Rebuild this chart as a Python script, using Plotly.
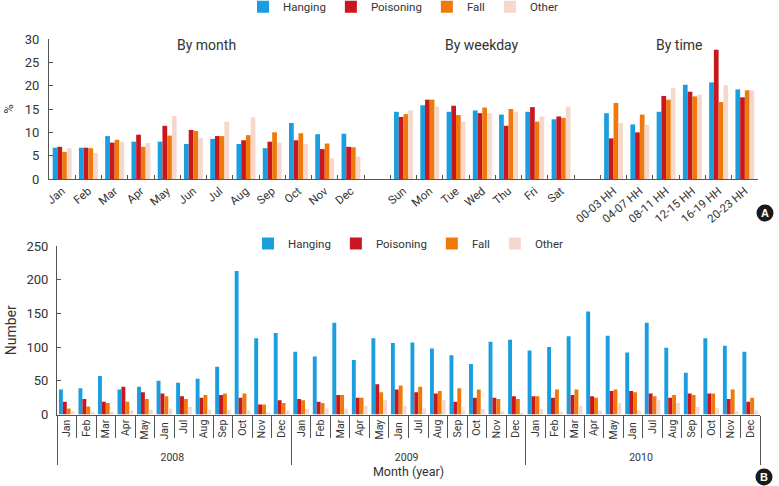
import plotly.graph_objects as go

# ---------------- data ----------------
series = ["Hanging", "Poisoning", "Fall", "Other"]
colors = ["#1a9ee0", "#c8171e", "#ef7a0b", "#f5d8cb"]

month_labels = ["Jan", "Feb", "Mar", "Apr", "May", "Jun", "Jul", "Aug", "Sep", "Oct", "Nov", "Dec"]
weekday_labels = ["Sun", "Mon", "Tue", "Wed", "Thu", "Fri", "Sat"]
time_labels = ["00-03 HH", "04-07 HH", "08-11 HH", "12-15 HH", "16-19 HH", "20-23 HH"]
gap_a, gap_b = " ", "  "

# Panel A: percent
pct_month = {
    "Hanging":   [6.7, 6.7, 9.2, 8.0, 8.0, 7.5, 8.6, 7.5, 6.6, 12.0, 9.6, 9.7],
    "Poisoning": [6.9, 6.7, 7.8, 9.5, 11.4, 10.5, 9.2, 8.3, 8.0, 8.3, 6.4, 6.9],
    "Fall":      [5.8, 6.6, 8.4, 6.9, 9.3, 10.3, 9.2, 9.4, 10.0, 9.8, 7.6, 6.8],
    "Other":     [6.6, 5.6, 8.0, 7.7, 13.5, 8.8, 12.3, 13.2, 7.8, 7.5, 4.4, 4.8],
}
pct_weekday = {
    "Hanging":   [14.4, 15.8, 14.4, 14.7, 13.8, 14.4, 12.8],
    "Poisoning": [13.3, 17.0, 15.7, 14.1, 11.4, 15.4, 13.4],
    "Fall":      [13.9, 17.0, 13.7, 15.3, 15.0, 12.3, 13.1],
    "Other":     [14.7, 15.5, 12.3, 14.1, 14.4, 13.4, 15.5],
}
pct_time = {
    "Hanging":   [14.1, 11.7, 14.4, 20.2, 20.7, 19.2],
    "Poisoning": [8.7, 10.0, 17.8, 18.7, 27.7, 17.5],
    "Fall":      [16.3, 13.8, 17.0, 17.7, 16.5, 19.0],
    "Other":     [12.0, 11.6, 19.5, 18.1, 20.1, 19.0],
}

# Panel B: number per month
years = ["2008", "2009", "2010"]
b_months = ["Jan", "Feb", "Mar", "Apr", "May", "Jan ", "Jul", "Aug", "Sep", "Oct", "Nov", "Dec"]
num = {
    "Hanging":   [37, 39, 57, 37, 41, 50, 47, 53, 71, 213, 113, 121,
                  93, 86, 136, 81, 113, 106, 107, 98, 88, 75, 108, 111,
                  95, 100, 116, 153, 117, 92, 136, 99, 62, 113, 102, 93],
    "Poisoning": [19, 23, 19, 41, 33, 31, 27, 25, 29, 25, 15, 21,
                  23, 19, 29, 25, 45, 37, 33, 31, 19, 25, 25, 27,
                  27, 25, 29, 27, 35, 35, 31, 25, 31, 31, 23, 19],
    "Fall":      [9, 12, 17, 19, 23, 27, 23, 29, 31, 31, 15, 17,
                  21, 17, 29, 25, 33, 43, 41, 35, 39, 37, 23, 23,
                  27, 37, 37, 25, 37, 33, 27, 29, 29, 31, 37, 25],
    "Other":     [5, 4, 4, 6, 7, 9, 11, 7, 7, 6, 3, 6,
                  8, 9, 9, 13, 21, 13, 9, 21, 6, 8, 5, 2,
                  8, 4, 13, 6, 17, 6, 21, 17, 11, 10, 5, 6],
}

# ---------------- figure ----------------
W, H = 779, 486
FONT = "Roboto, Liberation Sans, sans-serif"
TXT = "#333333"
AX = "#555555"

fig = go.Figure()

top_x = month_labels + weekday_labels + time_labels
top_cats = month_labels + [gap_a] + weekday_labels + [gap_b] + time_labels
for i, s in enumerate(series):
    fig.add_trace(go.Bar(
        x=top_x, y=pct_month[s] + pct_weekday[s] + pct_time[s],
        name=s, marker=dict(color=colors[i], line=dict(width=0)),
        width=0.18, offset=-0.36 + 0.18 * i,
        xaxis="x", yaxis="y", legend="legend",
    ))

year_level = [y for y in years for _ in b_months]
month_level = b_months * len(years)
for i, s in enumerate(series):
    fig.add_trace(go.Bar(
        x=[year_level, month_level], y=num[s],
        name=s, marker=dict(color=colors[i], line=dict(width=0)),
        width=0.2, offset=-0.4 + 0.2 * i,
        xaxis="x2", yaxis="y2", legend="legend2",
    ))

def px_x(p):
    return p / W

def px_y(p):
    return (H - p) / H

fig.update_layout(
    width=W, height=H, autosize=False,
    margin=dict(l=0, r=0, t=0, b=0, autoexpand=False),
    paper_bgcolor="white", plot_bgcolor="white",
    font=dict(family=FONT, size=12, color=TXT),
    barmode="group",
    xaxis=dict(
        domain=[px_x(49), px_x(758)], anchor="y",
        type="category", categoryorder="array", categoryarray=top_cats,
        tickson="boundaries", ticks="inside", ticklen=4, tickcolor=AX,
        showline=True, linecolor=AX, linewidth=1,
        tickangle=-40, tickfont=dict(size=11.5, color=TXT),
        showgrid=False, zeroline=False,
    ),
    yaxis=dict(
        domain=[px_y(179), px_y(39)], anchor="x",
        range=[0, 30], dtick=5, ticks="inside", ticklen=4, tickcolor=AX,
        showline=True, linecolor=AX, linewidth=1,
        showgrid=False, zeroline=False,
        tickfont=dict(size=13, color=TXT), ticklabelstandoff=6,
        title=dict(text="%", font=dict(size=13, color=TXT), standoff=8),
    ),
    xaxis2=dict(
        domain=[px_x(57), px_x(760)], anchor="y2",
        type="multicategory",
        tickson="boundaries", ticks="outside", ticklen=22, tickcolor=AX,
        showline=True, linecolor=AX, linewidth=1,
        dividercolor=AX, dividerwidth=1,
        tickangle=-90, tickfont=dict(size=10.5, color=TXT),
        showgrid=False, zeroline=False,
        title=dict(text="Month (year)", font=dict(size=12.5, color=TXT), standoff=4),
    ),
    yaxis2=dict(
        domain=[px_y(414.5), px_y(246)], anchor="x2",
        range=[0, 250], dtick=50, ticks="inside", ticklen=4, tickcolor=AX,
        showline=True, linecolor=AX, linewidth=1,
        showgrid=False, zeroline=False,
        tickfont=dict(size=13, color=TXT), ticklabelstandoff=5,
        title=dict(text="Number", font=dict(size=14, color=TXT), standoff=6),
    ),
    legend=dict(
        orientation="h", x=px_x(243), y=1.016, xanchor="left", yanchor="top",
        bgcolor="rgba(0,0,0,0)", font=dict(size=11.5, color=TXT),
        itemwidth=30, tracegroupgap=0,
    ),
    legend2=dict(
        orientation="h", x=px_x(248), y=px_y(229), xanchor="left", yanchor="top",
        bgcolor="rgba(0,0,0,0)", font=dict(size=11.5, color=TXT),
        itemwidth=30, tracegroupgap=0,
    ),
)

# group titles in panel A
for label, xpos in [("By month", 5.5), ("By weekday", 16), ("By time", 23.5)]:
    fig.add_annotation(x=xpos, y=28.7, xref="x", yref="y", text=label,
                       showarrow=False, font=dict(size=14, color=TXT))

# panel badges
for letter, cx, cy in [("A", 765, 213), ("B", 764, 477)]:
    r = 8.5
    fig.add_shape(type="circle", xref="paper", yref="paper",
                  x0=px_x(cx - r), x1=px_x(cx + r), y0=px_y(cy + r), y1=px_y(cy - r),
                  fillcolor="#1a1a1a", line=dict(width=0))
    fig.add_annotation(x=px_x(cx), y=px_y(cy), xref="paper", yref="paper",
                       xanchor="center", yanchor="middle",
                       text="<b>%s</b>" % letter, showarrow=False,
                       font=dict(size=11, color="white", family="Liberation Sans, Arial"))

fig.write_html(
    "out.html",
    config={"displayModeBar": False},
    post_script="document.body.style.margin='0';document.body.style.overflow='hidden';",
)
